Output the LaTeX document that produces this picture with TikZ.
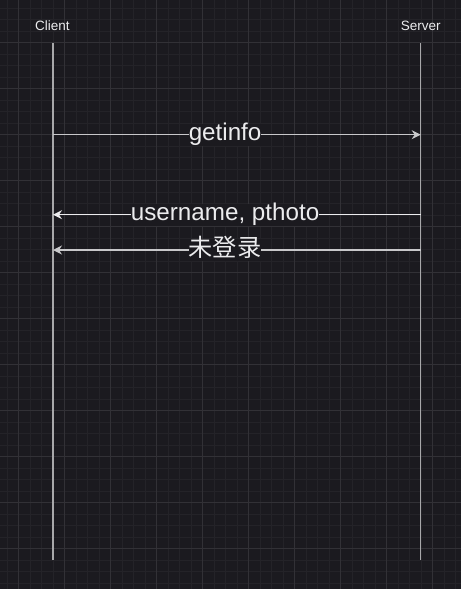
\documentclass[tikz,border=0pt]{standalone}
\usepackage{fontspec}
\setmainfont{Liberation Sans}
\newfontfamily\cjk{Noto Sans CJK SC}
\usetikzlibrary{arrows.meta}
\definecolor{bg}{RGB}{27,26,31}
\definecolor{gridminor}{RGB}{36,35,40}
\definecolor{gridmajor}{RGB}{50,49,54}
\definecolor{lifeline}{RGB}{168,168,170}
\definecolor{msgline}{RGB}{200,200,202}
\definecolor{msgtext}{RGB}{236,236,238}

\begin{document}
\begin{tikzpicture}[x=1pt,y=-1pt,line width=1.3pt,>={Stealth[length=9pt,width=9pt,inset=3pt]},
  actor/.style={text=msgtext,font=\fontsize{13.5}{16}\selectfont,anchor=base},
  msg/.style={fill=bg,inner sep=0pt,text=msgtext,text height=17pt,text depth=5pt,font=\fontsize{24.2}{29}\selectfont}]
  \fill[bg] (0,0) rectangle (461,589);
  \useasboundingbox (0,0) rectangle (461,589);
  % grid
  \foreach \i in {0,...,39} \draw[gridminor,line width=0.6pt] ({6.8+11.5*\i},0) -- ++(0,589);
  \foreach \i in {0,...,50} \draw[gridminor,line width=0.6pt] (0,{7.8+11.5*\i}) -- ++(461,0);
  \foreach \i in {0,...,9} \draw[gridmajor,line width=0.8pt] ({18.3+46*\i},0) -- ++(0,589);
  \foreach \i in {0,...,12} \draw[gridmajor,line width=0.8pt] (0,{42.3+46*\i}) -- ++(461,0);
  % actors and lifelines
  \node[actor] (client) at (52.5,30.7) {Client};
  \node[actor] (server) at (420.7,30.7) {Server};
  \coordinate (cTop) at (53,43);   \coordinate (cBot) at (53,560);
  \coordinate (sTop) at (420.7,43); \coordinate (sBot) at (420.7,560);
  \draw[lifeline] (cTop) -- (cBot);
  \draw[lifeline] (sTop) -- (sBot);
  % messages
  \coordinate (c1) at (53,134.7);  \coordinate (s1) at (420.7,134.7);
  \coordinate (c2) at (53,214.7);  \coordinate (s2) at (420.7,214.7);
  \coordinate (c3) at (53,250);    \coordinate (s3) at (420.7,250);
  \draw[->,msgline] (c1) -- node[msg,pos=0.468] (getinfo) {getinfo} (s1);
  \draw[->,msgtext] (s2) -- node[msg,pos=0.532] (userinfo) {username, pthoto} (c2);
  \draw[->,msgline] (s3) -- node[msg,pos=0.532] (nologin) {\cjk 未登录} (c3);
\end{tikzpicture}
\end{document}
